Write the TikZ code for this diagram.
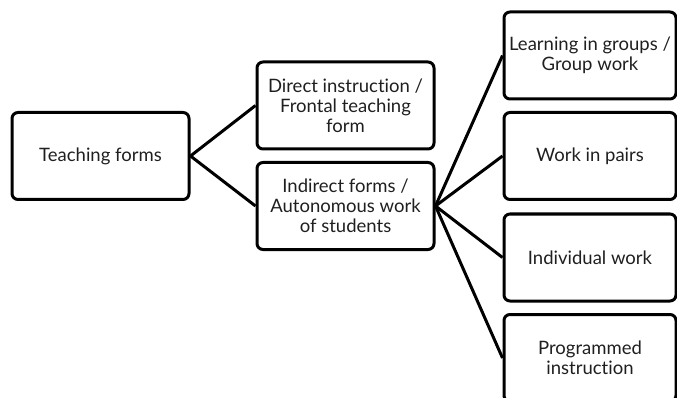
\documentclass[tikz,border=0pt]{standalone}
\usepackage{fontspec}
\setmainfont{Lato}[Ligatures={NoCommon}]
\begin{document}
\begin{tikzpicture}[x=1pt,y=-1pt,
  box/.style={draw=black, line width=3pt, rounded corners=6pt, align=center,
    font=\fontsize{18.5}{20}\selectfont, text=black!88, inner sep=0pt},
  lbox/.style={box, minimum width=177pt, minimum height=87pt},
  rbox/.style={box, minimum width=172pt, minimum height=87pt},
  conn/.style={line width=3pt}]
\useasboundingbox (0,0) rectangle (677,398);
\clip (0,0) rectangle (677,398);
\node[lbox] (tf) at (100.5,156) {Teaching forms};
\node[lbox] (di) at (345.5,105.5) {Direct instruction /\\Frontal teaching\\form};
\node[lbox] (in) at (345.5,206) {Indirect forms /\\Autonomous work\\of students};
\node[rbox] (lg) at (590,55.5) {Learning in groups /\\Group work};
\node[rbox] (wp) at (590,156) {Work in pairs};
\node[rbox] (iw) at (590,257.5) {Individual work};
\node[rbox] (pi) at (590,358) {Programmed\\instruction};
\draw[conn] (tf.east) -- (di.west);
\draw[conn] (tf.east) -- (in.west);
\draw[conn] (in.east) -- (lg.west);
\draw[conn] (in.east) -- (wp.west);
\draw[conn] (in.east) -- (iw.west);
\draw[conn] (in.east) -- (pi.west);
\end{tikzpicture}
\end{document}
